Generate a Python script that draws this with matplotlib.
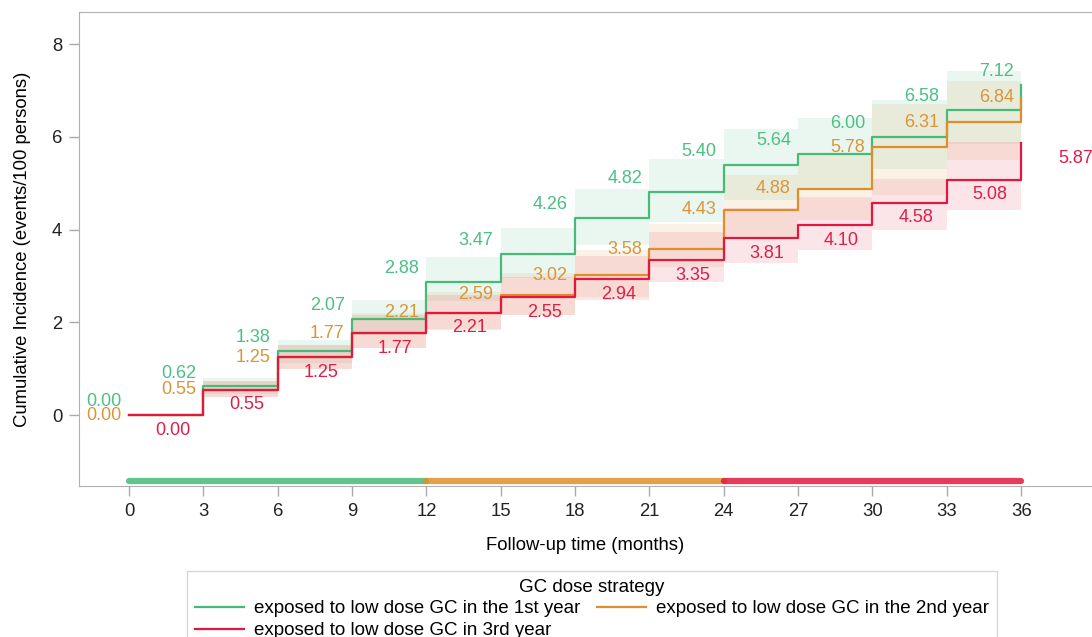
import matplotlib.pyplot as plt
import numpy as np

plt.rcParams['font.family'] = ['Liberation Sans', 'DejaVu Sans']

# Cumulative incidence (events/100 persons) at each 3-month visit
months = [0, 3, 6, 9, 12, 15, 18, 21, 24, 27, 30, 33, 36]
ci_year1 = [0.00, 0.62, 1.38, 2.07, 2.88, 3.47, 4.26, 4.82, 5.40, 5.64, 6.00, 6.58, 7.12]
ci_year2 = [0.00, 0.55, 1.25, 1.77, 2.21, 2.59, 3.02, 3.58, 4.43, 4.88, 5.78, 6.31, 6.84]
ci_year3 = [0.00, 0.55, 1.25, 1.77, 2.21, 2.55, 2.94, 3.35, 3.81, 4.10, 4.58, 5.08, 5.87]

# 95% confidence limits for each 3-month interval
lo_year1 = [0, 0.45, 1.12, 1.72, 2.45, 2.95, 3.66, 4.17, 4.63, 4.90, 5.30, 5.85]
hi_year1 = [0, 0.80, 1.62, 2.48, 3.40, 4.03, 4.88, 5.52, 6.16, 6.40, 6.79, 7.42]
lo_year2 = [0, 0.38, 1.00, 1.45, 1.85, 2.15, 2.55, 3.19, 3.84, 4.20, 4.75, 5.50]
hi_year2 = [0, 0.74, 1.52, 2.20, 2.65, 3.06, 3.55, 4.13, 5.17, 5.62, 6.70, 7.20]
lo_year3 = [0, 0.38, 0.99, 1.44, 1.83, 2.15, 2.48, 2.87, 3.27, 3.56, 3.99, 4.42]
hi_year3 = [0, 0.74, 1.52, 2.15, 2.60, 2.98, 3.42, 3.94, 4.46, 4.70, 5.10, 5.88]

labels = ['exposed to low dose GC in the 1st year',
          'exposed to low dose GC in the 2nd year',
          'exposed to low dose GC in 3rd year']
line_colors = ['#47b978', '#e08e2b', '#e2183f']
text_colors = ['#4cbf85', '#d9953a', '#dc1f48']

# exposure window of each strategy (months)
windows = [(0, 12), (12, 24), (24, 36)]

fig = plt.figure(figsize=(10.92, 6.37), dpi=100)
ax = fig.add_axes([0.0723, 0.237, 0.9277, 0.744])

series = [(ci_year1, lo_year1, hi_year1),
          (ci_year2, lo_year2, hi_year2),
          (ci_year3, lo_year3, hi_year3)]

# confidence bands
for (ci, lo, hi), c in zip(series, line_colors):
    ax.fill_between(months, lo + [lo[-1]], hi + [hi[-1]], step='post',
                    color=c, alpha=0.11, linewidth=0)

# step curves
handles = []
for (ci, lo, hi), c, lab in zip(series, line_colors, labels):
    h, = ax.plot(months, ci, drawstyle='steps-post', color=c, lw=1.6, label=lab)
    handles.append(h)

# value labels
fs_val = 13
for t, v in zip(months, ci_year1):
    ax.annotate(f'{v:.2f}', (t - 1, v), xytext=(0, 9.5), textcoords='offset points',
                ha='center', va='center', color=text_colors[0], fontsize=fs_val)
for t, v in zip(months, ci_year2):
    ax.annotate(f'{v:.2f}', (t - 1, v), xytext=(0, 0), textcoords='offset points',
                ha='center', va='center', color=text_colors[1], fontsize=fs_val)
for i, (t, v) in enumerate(zip(months, ci_year3)):
    dx = 2.2 if i == len(months) - 1 else 1.75
    ax.annotate(f'{v:.2f}', (t + dx, v), xytext=(0, -11), textcoords='offset points',
                ha='center', va='center', color=text_colors[2], fontsize=fs_val)

# exposure period bar along the bottom
for (a, b), c in zip(windows, line_colors):
    ax.plot([a, b], [-1.43, -1.43], color=c, lw=4.5, alpha=0.85,
            solid_capstyle='round')

ax.set_xlim(-2.02, 38.86)
ax.set_ylim(-1.53, 8.69)
ax.set_xticks(months)
ax.set_yticks([0, 2, 4, 6, 8])
ax.tick_params(axis='both', colors='#aaaaaa', labelcolor='#222222',
               labelsize=13.3, length=7, width=1, pad=5)
for side in ['left', 'bottom', 'top']:
    ax.spines[side].set_color('#b0b0b0')
ax.spines['right'].set_visible(False)

ax.set_xlabel('Follow-up time (months)', fontsize=13.3)
ax.set_ylabel('Cumulative Incidence (events/100 persons)', fontsize=13.3)
ax.xaxis.set_label_coords(0.5, -0.108)
ax.yaxis.set_label_coords(-0.047, 0.5)

# legend filled row by row: 1st year, 2nd year / 3rd year
order = [0, 2, 1]
leg = fig.legend(handles=[handles[i] for i in order], loc='upper center', ncol=2,
                 bbox_to_anchor=(592 / 1092, 1 - 571 / 637),
                 title='GC dose strategy', fontsize=13.5, title_fontsize=13.5,
                 frameon=True, fancybox=False, edgecolor='#cccccc',
                 handlelength=2.6, handletextpad=0.55, columnspacing=0.9,
                 borderpad=0.4, labelspacing=0.25, borderaxespad=0)

fig.savefig('out.png', dpi=100)
